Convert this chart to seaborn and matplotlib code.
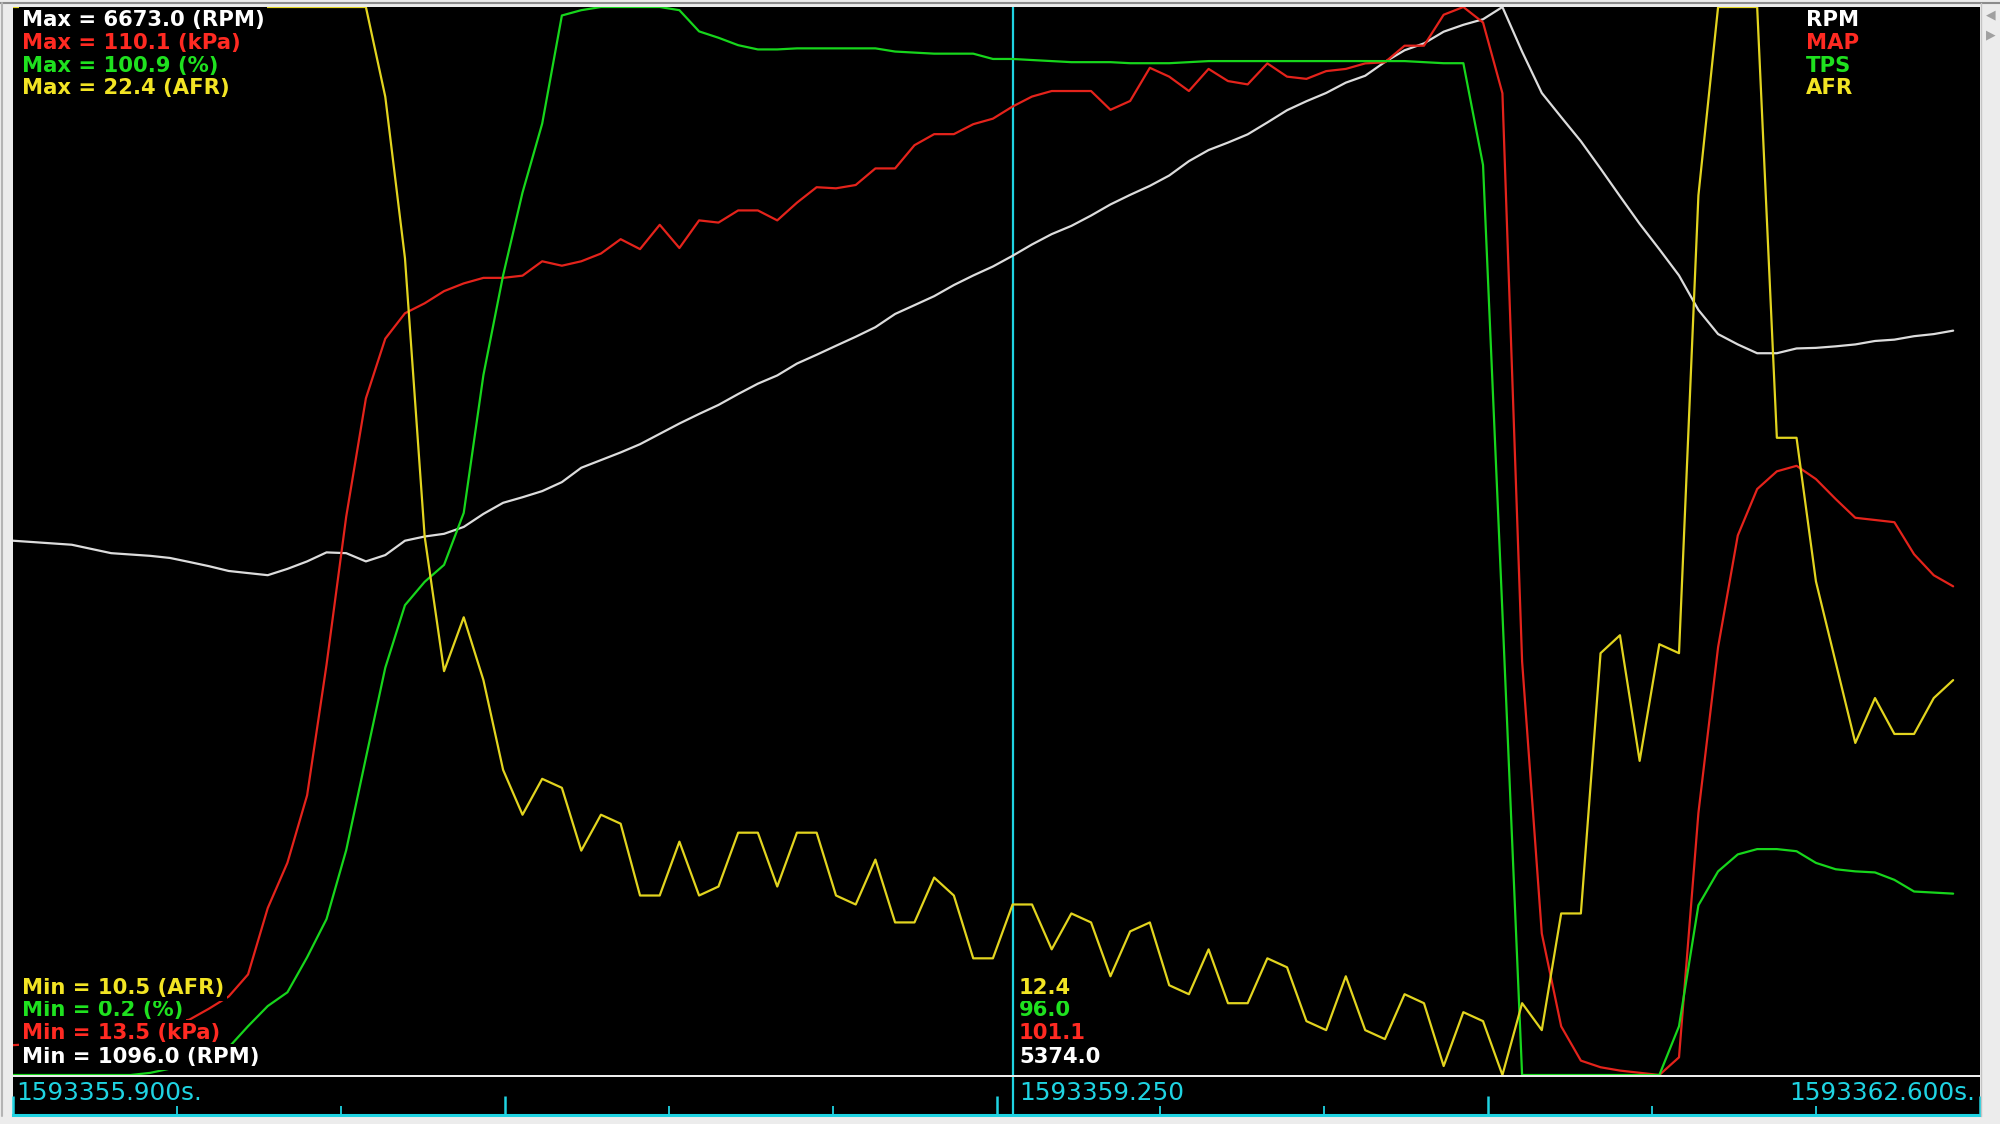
import numpy as np
import pandas as pd
import matplotlib
matplotlib.use("Agg")
import matplotlib.pyplot as plt
from matplotlib.lines import Line2D
import seaborn as sns

# ---------------- data (time offsets in s from 1593355.900) ----------------
t_offset = [0.000, 0.066, 0.131, 0.197, 0.263, 0.329, 0.394, 0.460, 0.526, 0.591,
            0.657, 0.723, 0.788, 0.854, 0.920, 0.986, 1.051, 1.117, 1.183, 1.248,
            1.314, 1.380, 1.445, 1.511, 1.577, 1.643, 1.708, 1.774, 1.840, 1.905,
            1.971, 2.037, 2.102, 2.168, 2.234, 2.300, 2.365, 2.431, 2.497, 2.562,
            2.628, 2.694, 2.759, 2.825, 2.891, 2.957, 3.022, 3.088, 3.154, 3.219,
            3.285, 3.351, 3.416, 3.482, 3.548, 3.614, 3.679, 3.745, 3.811, 3.876,
            3.942, 4.008, 4.073, 4.139, 4.205, 4.271, 4.336, 4.402, 4.468, 4.533,
            4.599, 4.665, 4.730, 4.796, 4.862, 4.928, 4.993, 5.059, 5.125, 5.190,
            5.256, 5.322, 5.387, 5.453, 5.519, 5.585, 5.650, 5.716, 5.782, 5.847,
            5.913, 5.979, 6.044, 6.110, 6.176, 6.242, 6.307, 6.373, 6.439, 6.504]

rpm = [3886, 3879, 3872, 3865, 3843, 3821, 3814, 3807, 3796, 3775,
       3753, 3728, 3717, 3706, 3739, 3778, 3825, 3821, 3778, 3811,
       3886, 3908, 3922, 3958, 4026, 4084, 4113, 4145, 4192, 4267,
       4307, 4347, 4390, 4444, 4498, 4548, 4595, 4652, 4706, 4749,
       4811, 4857, 4904, 4951, 5001, 5070, 5116, 5163, 5221, 5271,
       5318, 5374, 5433, 5487, 5530, 5584, 5642, 5692, 5739, 5793,
       5868, 5926, 5965, 6008, 6070, 6134, 6181, 6224, 6278, 6314,
       6386, 6447, 6483, 6544, 6580, 6609, 6673, 6440, 6224, 6098,
       5972, 5829, 5685, 5541, 5408, 5271, 5091, 4965, 4911, 4865,
       4865, 4890, 4893, 4901, 4911, 4929, 4936, 4954, 4965, 4983]

map_kpa = [16.2, 16.3, 16.5, 16.8, 17.0, 17.3, 17.5, 17.8, 18.2, 18.5,
           19.5, 20.6, 22.6, 28.6, 32.7, 38.8, 50.6, 64.0, 74.7, 80.1,
           82.4, 83.3, 84.4, 85.1, 85.6, 85.6, 85.8, 87.1, 86.7, 87.1,
           87.8, 89.1, 88.2, 90.4, 88.3, 90.8, 90.6, 91.7, 91.7, 90.8,
           92.4, 93.8, 93.7, 94.0, 95.5, 95.5, 97.6, 98.6, 98.6, 99.5,
           100.0, 101.1, 102.0, 102.5, 102.5, 102.5, 100.8, 101.6, 104.6, 103.8,
           102.5, 104.5, 103.4, 103.1, 105.0, 103.8, 103.6, 104.3, 104.5, 105.0,
           105.1, 106.6, 106.6, 109.4, 110.1, 108.7, 102.3, 50.9, 26.3, 17.9,
           14.8, 14.2, 13.9, 13.7, 13.5, 15.1, 37.2, 52.2, 62.3, 66.5,
           68.1, 68.6, 67.4, 65.6, 63.9, 63.7, 63.5, 60.6, 58.7, 57.7]

tps = [0.2, 0.2, 0.2, 0.2, 0.2, 0.2, 0.2, 0.4, 0.8, 1.2,
       1.9, 2.8, 4.8, 6.7, 8.0, 11.3, 14.9, 21.4, 30.1, 38.6,
       44.5, 46.7, 48.3, 53.2, 66.2, 75.6, 83.4, 89.9, 100.1, 100.6,
       100.9, 100.9, 100.9, 100.9, 100.6, 98.6, 98.0, 97.3, 96.9, 96.9,
       97.0, 97.0, 97.0, 97.0, 97.0, 96.7, 96.6, 96.5, 96.5, 96.5,
       96.0, 96.0, 95.9, 95.8, 95.7, 95.7, 95.7, 95.6, 95.6, 95.6,
       95.7, 95.8, 95.8, 95.8, 95.8, 95.8, 95.8, 95.8, 95.8, 95.8,
       95.8, 95.8, 95.7, 95.6, 95.6, 86.0, 43.8, 0.2, 0.2, 0.2,
       0.2, 0.2, 0.2, 0.2, 0.2, 4.8, 16.2, 19.4, 21.0, 21.5,
       21.5, 21.3, 20.2, 19.6, 19.4, 19.3, 18.6, 17.5, 17.4, 17.3]

afr = [22.4, 22.4, 22.4, 22.4, 22.4, 22.4, 22.4, 22.4, 22.4, 22.4,
       22.4, 22.4, 22.4, 22.4, 22.4, 22.4, 22.4, 22.4, 22.4, 21.4,
       19.6, 16.5, 15.0, 15.6, 14.9, 13.9, 13.4, 13.8, 13.7, 13.0,
       13.4, 13.3, 12.5, 12.5, 13.1, 12.5, 12.6, 13.2, 13.2, 12.6,
       13.2, 13.2, 12.5, 12.4, 12.9, 12.2, 12.2, 12.7, 12.5, 11.8,
       11.8, 12.4, 12.4, 11.9, 12.3, 12.2, 11.6, 12.1, 12.2, 11.5,
       11.4, 11.9, 11.3, 11.3, 11.8, 11.7, 11.1, 11.0, 11.6, 11.0,
       10.9, 11.4, 11.3, 10.6, 11.2, 11.1, 10.5, 11.3, 11.0, 12.3,
       12.3, 15.2, 15.4, 14.0, 15.3, 15.2, 20.3, 22.4, 22.4, 22.4,
       17.6, 17.6, 16.0, 15.1, 14.2, 14.7, 14.3, 14.3, 14.7, 14.9]

channels = ["RPM", "MAP", "TPS", "AFR"]
units = ["RPM", "kPa", "%", "AFR"]
ch_min = [1096.0, 13.5, 0.2, 10.5]
ch_max = [6673.0, 110.1, 100.9, 22.4]
cursor_vals = [5374.0, 101.1, 96.0, 12.4]
t_start_label = "1593355.900s."
t_cursor_label = "1593359.250"
t_end_label = "1593362.600s."
cursor_t = 3.351
view_span = 6.594

# ---------------- style ----------------
sns.set_style("dark", {"axes.facecolor": "black", "figure.facecolor": "#ececec"})
plt.rcParams["font.family"] = ["DejaVu Sans"]

line_col = {"RPM": "#dcdcdc", "MAP": "#e4231b", "TPS": "#17d61c", "AFR": "#e2d41f"}
text_col = {"RPM": "#ffffff", "MAP": "#ff2a22", "TPS": "#1fe11f", "AFR": "#f2e424"}
cyan = "#1fd3e2"

W, H = 2000, 1124
fig = plt.figure(figsize=(W / 100, H / 100), dpi=100, facecolor="#ececec")

def fx(px):
    return px / W

def fy(py):
    return 1 - py / H

L, R, T, B = 13, 1980, 7, 1075

df = pd.DataFrame({"t": t_offset, "RPM": rpm, "MAP": map_kpa, "TPS": tps, "AFR": afr})

ax0 = fig.add_axes([fx(L), fy(B), (R - L) / W, (B - T) / H])
ax0.set_facecolor("black")
axes = [ax0] + [ax0.twinx() for _ in range(3)]

ax0.axvline(cursor_t, color=cyan, lw=1.6, zorder=1)

for a, ch, lo, hi in zip(axes, channels, ch_min, ch_max):
    sns.lineplot(data=df, x="t", y=ch, ax=a, color=line_col[ch], lw=1.6)
    a.set_ylim(lo, hi)
    a.set_xlim(0, view_span)
    a.set_xticks([])
    a.set_yticks([])
    a.set_xlabel("")
    a.set_ylabel("")
    for s in a.spines.values():
        s.set_visible(False)

# time strip
axt = fig.add_axes([fx(L), fy(1115), (R - L) / W, (1115 - 1077) / H])
axt.set_facecolor("black")
axt.set_xlim(0, view_span)
axt.set_ylim(0, 1)
for s in ["top", "left", "right"]:
    axt.spines[s].set_visible(False)
axt.spines["bottom"].set_color(cyan)
axt.spines["bottom"].set_linewidth(2.2)
axt.set_xticks(np.linspace(0, view_span, 5))
axt.set_xticks(np.linspace(0, view_span, 13), minor=True)
axt.tick_params(axis="x", which="major", direction="in", length=13.5, width=1.8,
                color=cyan, bottom=True, labelbottom=False)
axt.tick_params(axis="x", which="minor", direction="in", length=6.5, width=1.3,
                color=cyan, bottom=True)
axt.set_yticks([])
axt.axvline(cursor_t, color=cyan, lw=1.6)

tfs = 17.8
fig.text(fx(16), fy(1093), t_start_label, color=cyan, fontsize=tfs, va="center", ha="left")
fig.text(fx(1019), fy(1093), t_cursor_label, color=cyan, fontsize=tfs, va="center", ha="left")
fig.text(fx(1975), fy(1093), t_end_label, color=cyan, fontsize=tfs, va="center", ha="right")

# stats text (drawn on opaque black boxes, as in the log viewer)
fs = 15.2
box = dict(facecolor="black", edgecolor="none", boxstyle="square,pad=0.12")
rows_top = [20, 43, 66, 88]
for ch, u, hi, y in zip(channels, units, ch_max, rows_top):
    fig.text(fx(22), fy(y), f"Max = {hi:.1f} ({u})", color=text_col[ch], fontsize=fs,
             fontweight="bold", va="center", ha="left", bbox=box)
    fig.text(fx(1806), fy(y), ch, color=text_col[ch], fontsize=fs,
             fontweight="bold", va="center", ha="left", bbox=box)

rows_bot = [1057, 1033, 1010, 988]
for ch, u, lo, cv, y in zip(channels, units, ch_min, cursor_vals, rows_bot):
    fig.text(fx(22), fy(y), f"Min = {lo:.1f} ({u})", color=text_col[ch], fontsize=fs,
             fontweight="bold", va="center", ha="left", bbox=box)
    fig.text(fx(1019), fy(y), f"{cv:.1f}", color=text_col[ch], fontsize=fs,
             fontweight="bold", va="center", ha="left", bbox=box)

# window chrome
fig.add_artist(Line2D([0, 1], [fy(3), fy(3)], transform=fig.transFigure, color="#8c8c8c", lw=1.5))
fig.add_artist(Line2D([fx(2), fx(2)], [fy(3), fy(1116)], transform=fig.transFigure, color="#b4b4b4", lw=1.5))
fig.add_artist(Line2D([fx(1981), fx(1981)], [fy(3), fy(1116)], transform=fig.transFigure, color="#c4c4c4", lw=1.0))
fig.text(fx(1991), fy(15), "◀", color="#a0a0a0", fontsize=9, ha="center", va="center")
fig.text(fx(1991), fy(35), "▶", color="#a0a0a0", fontsize=9, ha="center", va="center")

fig.savefig("out.png", dpi=100, facecolor=fig.get_facecolor())
